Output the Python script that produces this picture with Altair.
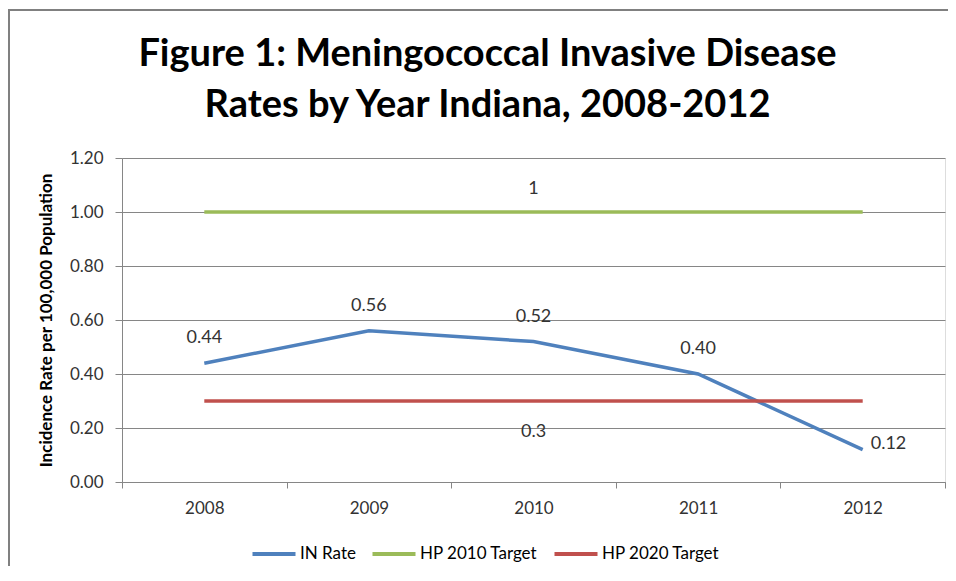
import altair as alt
import pandas as pd

years = ["2008", "2009", "2010", "2011", "2012"]
in_rate = [0.44, 0.56, 0.52, 0.40, 0.12]
hp2010 = [1, 1, 1, 1, 1]
hp2020 = [0.3, 0.3, 0.3, 0.3, 0.3]
series_names = ["IN Rate", "HP 2010 Target", "HP 2020 Target"]
series_colors = ["#4F81BD", "#9BBB59", "#C0504D"]
y_ticks = [0, 0.2, 0.4, 0.6, 0.8, 1.0, 1.2]

rows = []
for name, vals in zip(series_names, [in_rate, hp2010, hp2020]):
    for i, (yr, v) in enumerate(zip(years, vals)):
        rows.append({"year": yr, "value": v, "series": name, "idx": i})
df = pd.DataFrame(rows)

FONT = "Lato"

x_enc = alt.X("year:N", scale=alt.Scale(type="band", domain=years, paddingInner=0, paddingOuter=0),
              bandPosition=0.5,
              axis=alt.Axis(title=None, tickBand="extent", labelAngle=0, labelFont=FONT, labelFontSize=17,
                            labelColor="#333333", labelPadding=12, tickSize=6, tickColor="#868686",
                            domainColor="#868686", grid=False))
y_enc = alt.Y("value:Q", scale=alt.Scale(domain=[0, 1.2], nice=False),
              axis=alt.Axis(title="Incidence Rate per 100,000 Population", values=y_ticks, format=".2f",
                            labelFont=FONT, labelFontSize=17, labelColor="#333333", labelPadding=12,
                            tickSize=7, tickColor="#868686", domainColor="#868686",
                            gridColor="#868686", gridWidth=1,
                            titleFont=FONT, titleFontSize=17, titleFontWeight="bold", titleColor="#000000",
                            titlePadding=14))

base = alt.Chart(df)

lines = base.mark_line(strokeWidth=3.5).encode(
    x=x_enc, y=y_enc,
    color=alt.Color("series:N", scale=alt.Scale(domain=series_names, range=series_colors),
                    legend=alt.Legend(title=None, orient="none", direction="horizontal",
                                      legendX=128, legendY=372, symbolType="stroke",
                                      symbolSize=1850, symbolStrokeWidth=4, labelFont=FONT,
                                      labelFontSize=17, labelColor="#000000", labelOffset=2,
                                      columnPadding=8)),
    order="idx:Q",
)

lbl_font = dict(font=FONT, fontSize=18, color="#333333")

in_labels = base.mark_text(dy=-20, baseline="alphabetic", **lbl_font).encode(
    x=alt.X("year:N", bandPosition=0.5), y="value:Q", text=alt.Text("value:Q", format=".2f")
).transform_filter("datum.series == 'IN Rate' && datum.idx < 4")

last_label = base.mark_text(dx=8, dy=-1, align="left", baseline="alphabetic", **lbl_font).encode(
    x=alt.X("year:N", bandPosition=0.5), y="value:Q", text=alt.Text("value:Q", format=".2f")
).transform_filter("datum.series == 'IN Rate' && datum.idx == 4")

hp10_label = base.mark_text(dy=-18, baseline="alphabetic", **lbl_font).encode(
    x=alt.X("year:N", bandPosition=0.5), y="value:Q", text=alt.Text("value:Q")
).transform_filter("datum.series == 'HP 2010 Target' && datum.year == '2010'")

hp20_label = base.mark_text(dy=36, baseline="alphabetic", **lbl_font).encode(
    x=alt.X("year:N", bandPosition=0.5), y="value:Q", text=alt.Text("value:Q")
).transform_filter("datum.series == 'HP 2020 Target' && datum.year == '2010'")

frame_df = pd.DataFrame({"a": [0]})
frame_left = alt.Chart(frame_df).mark_rule(stroke="#808080", strokeWidth=2).encode(
    x=alt.value(-113), x2=alt.value(-113), y=alt.value(-149), y2=alt.value(408)
)
frame_top = alt.Chart(frame_df).mark_rule(stroke="#808080", strokeWidth=2).encode(
    x=alt.value(-114), x2=alt.value(826), y=alt.value(-148), y2=alt.value(-148)
)

chart = alt.layer(frame_left, frame_top, lines, in_labels, last_label, hp10_label, hp20_label).properties(
    width=823, height=324,
    autosize=alt.AutoSizeParams(type="none"),
    padding={"left": 114, "top": 150, "right": 3, "bottom": 84},
    title=alt.TitleParams(
        text=["Figure 1: Meningococcal Invasive Disease", "Rates by Year Indiana, 2008-2012"],
        font=FONT, fontSize=38, fontWeight="bold", color="#000000", lineHeight=51,
        anchor="middle", dx=-46, offset=0, dy=117,
    ),
).configure_view(stroke=None).configure(background="white")

chart.save("out.html", embed_options={"renderer": "svg", "actions": False})
